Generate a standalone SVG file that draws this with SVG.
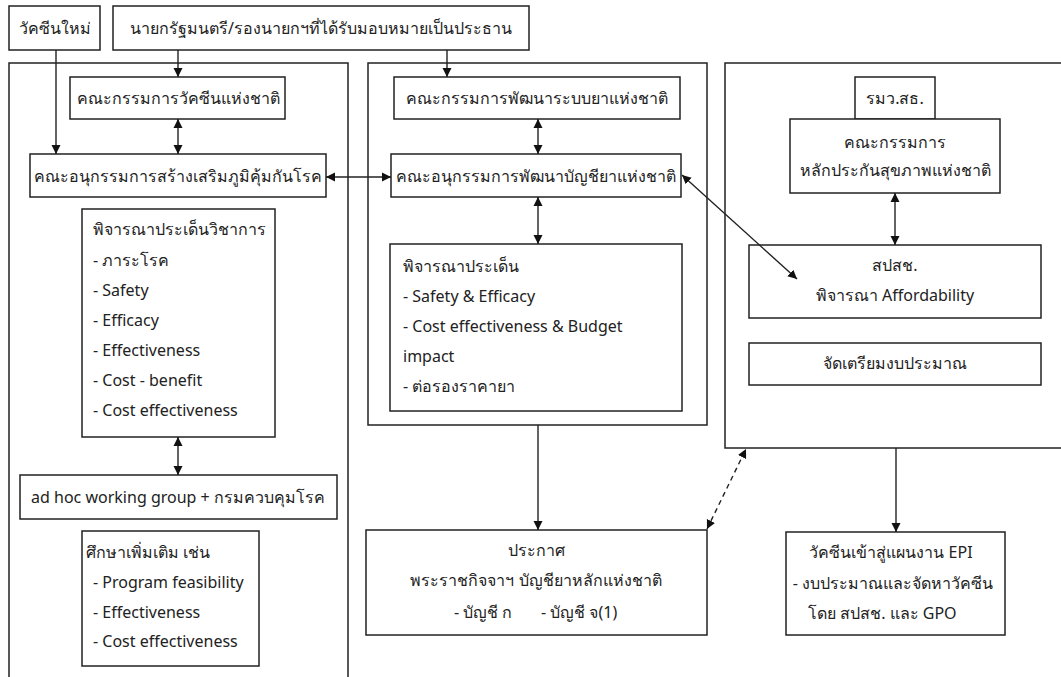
<svg xmlns="http://www.w3.org/2000/svg" width="1061" height="677" viewBox="0 0 1061 677">
<style>
.b{fill:#fff;stroke:#222;stroke-width:1.5}
.c{fill:none;stroke:#222;stroke-width:1.4}
.t{font-family:"Noto Sans","Open Sans",sans-serif;font-size:16px;fill:#222}
.m{text-anchor:middle}
</style>
<defs>
<marker id="a" viewBox="0 0 10 10" refX="10" refY="5" markerWidth="9" markerHeight="10" markerUnits="userSpaceOnUse" orient="auto-start-reverse"><path d="M0,0L10,5L0,10z" fill="#111"/></marker>
</defs>
<rect width="1061" height="677" fill="#fff"/>
<g id="containers">
<rect class="b" x="9" y="63" width="339" height="640"/>
<rect class="b" x="368" y="63" width="339" height="362"/>
<rect class="b" x="725" y="63" width="360" height="385"/>
</g>
<g id="n-new-vaccine"><rect class="b" x="9" y="6" width="91" height="44"/><text class="t m" x="55" y="34">วัคซีนใหม่</text></g>
<g id="n-pm"><rect class="b" x="113" y="6" width="416" height="44"/><text class="t m" x="321" y="34">นายกรัฐมนตรี/รองนายกฯที่ได้รับมอบหมายเป็นประธาน</text></g>
<g id="n-vaccine-committee"><rect class="b" x="70" y="77" width="215" height="42"/><text class="t m" x="178" y="104">คณะกรรมการวัคซีนแห่งชาติ</text></g>
<g id="n-immunization-sub"><rect class="b" x="30" y="154" width="296" height="43"/><text class="t m" x="178" y="182">คณะอนุกรรมการสร้างเสริมภูมิคุ้มกันโรค</text></g>
<g id="n-academic"><rect class="b" x="82" y="209" width="193" height="228"/>
<text class="t" x="93" y="235">พิจารณาประเด็นวิชาการ</text>
<text class="t" x="93" y="266">- ภาระโรค</text>
<text class="t" x="93" y="296">- Safety</text>
<text class="t" x="93" y="326">- Efficacy</text>
<text class="t" x="93" y="356">- Effectiveness</text>
<text class="t" x="93" y="386">- Cost - benefit</text>
<text class="t" x="93" y="416">- Cost effectiveness</text></g>
<g id="n-adhoc"><rect class="b" x="20" y="475" width="317" height="44"/><text class="t m" x="178" y="503">ad hoc working group + กรมควบคุมโรค</text></g>
<g id="n-study"><rect class="b" x="82" y="531" width="177" height="135"/>
<text class="t" x="86" y="558">ศึกษาเพิ่มเติม เช่น</text>
<text class="t" x="93" y="588">- Program feasibility</text>
<text class="t" x="93" y="618">- Effectiveness</text>
<text class="t" x="93" y="647">- Cost effectiveness</text></g>
<g id="n-drug-system"><rect class="b" x="394" y="77" width="286" height="42"/><text class="t m" x="537" y="104">คณะกรรมการพัฒนาระบบยาแห่งชาติ</text></g>
<g id="n-drug-list-sub"><rect class="b" x="391" y="154" width="290" height="43"/><text class="t m" x="536" y="182">คณะอนุกรรมการพัฒนาบัญชียาแห่งชาติ</text></g>
<g id="n-issues"><rect class="b" x="390" y="244" width="292" height="167"/>
<text class="t" x="403" y="272">พิจารณาประเด็น</text>
<text class="t" x="403" y="302">- Safety &amp; Efficacy</text>
<text class="t" x="403" y="332">- Cost effectiveness &amp; Budget</text>
<text class="t" x="403" y="362">impact</text>
<text class="t" x="403" y="392">- ต่อรองราคายา</text></g>
<g id="n-minister"><rect class="b" x="855" y="77" width="80" height="42"/><text class="t m" x="895" y="104">รมว.สธ.</text></g>
<g id="n-nhso-board"><rect class="b" x="790" y="119" width="210" height="74"/>
<text class="t m" x="895" y="148">คณะกรรมการ</text>
<text class="t m" x="895" y="176">หลักประกันสุขภาพแห่งชาติ</text></g>
<g id="n-nhso"><rect class="b" x="749" y="245" width="292" height="73"/>
<text class="t m" x="895" y="271">สปสช.</text>
<text class="t m" x="895" y="301">พิจารณา Affordability</text></g>
<g id="n-budget"><rect class="b" x="749" y="343" width="292" height="42"/><text class="t m" x="895" y="369">จัดเตรียมงบประมาณ</text></g>
<g id="n-announce"><rect class="b" x="366" y="530" width="341" height="105"/>
<text class="t m" x="536" y="556">ประกาศ</text>
<text class="t m" x="536" y="586">พระราชกิจจาฯ บัญชียาหลักแห่งชาติ</text>
<text class="t" x="454" y="618">- บัญชี ก</text>
<text class="t" x="541" y="618">- บัญชี จ(1)</text></g>
<g id="n-epi"><rect class="b" x="786" y="532" width="219" height="103"/>
<text class="t m" x="891" y="558">วัคซีนเข้าสู่แผนงาน EPI</text>
<text class="t m" x="893" y="589">- งบประมาณและจัดหาวัคซีน</text>
<text class="t" x="808" y="619">โดย สปสช. และ GPO</text></g>
<g id="connectors">
<line class="c" x1="56" y1="50" x2="56" y2="154" marker-end="url(#a)"/>
<line class="c" x1="178" y1="50" x2="178" y2="77" marker-end="url(#a)"/>
<line class="c" x1="447" y1="50" x2="447" y2="77" marker-end="url(#a)"/>
<line class="c" x1="178" y1="119" x2="178" y2="154" marker-start="url(#a)" marker-end="url(#a)"/>
<line class="c" x1="326" y1="177" x2="391" y2="177" marker-start="url(#a)" marker-end="url(#a)"/>
<line class="c" x1="178" y1="437" x2="178" y2="475" marker-start="url(#a)" marker-end="url(#a)"/>
<line class="c" x1="538" y1="119" x2="538" y2="154" marker-start="url(#a)" marker-end="url(#a)"/>
<line class="c" x1="538" y1="197" x2="538" y2="244" marker-start="url(#a)" marker-end="url(#a)"/>
<line class="c" x1="682" y1="175" x2="797" y2="279" marker-start="url(#a)" marker-end="url(#a)"/>
<line class="c" x1="895" y1="193" x2="895" y2="245" marker-start="url(#a)" marker-end="url(#a)"/>
<line class="c" x1="538" y1="425" x2="538" y2="530" marker-end="url(#a)"/>
<line class="c" x1="896" y1="448" x2="896" y2="532" marker-end="url(#a)"/>
<line class="c" x1="707" y1="529" x2="746" y2="449" stroke-dasharray="5,4" marker-start="url(#a)" marker-end="url(#a)"/>
</g>
</svg>
